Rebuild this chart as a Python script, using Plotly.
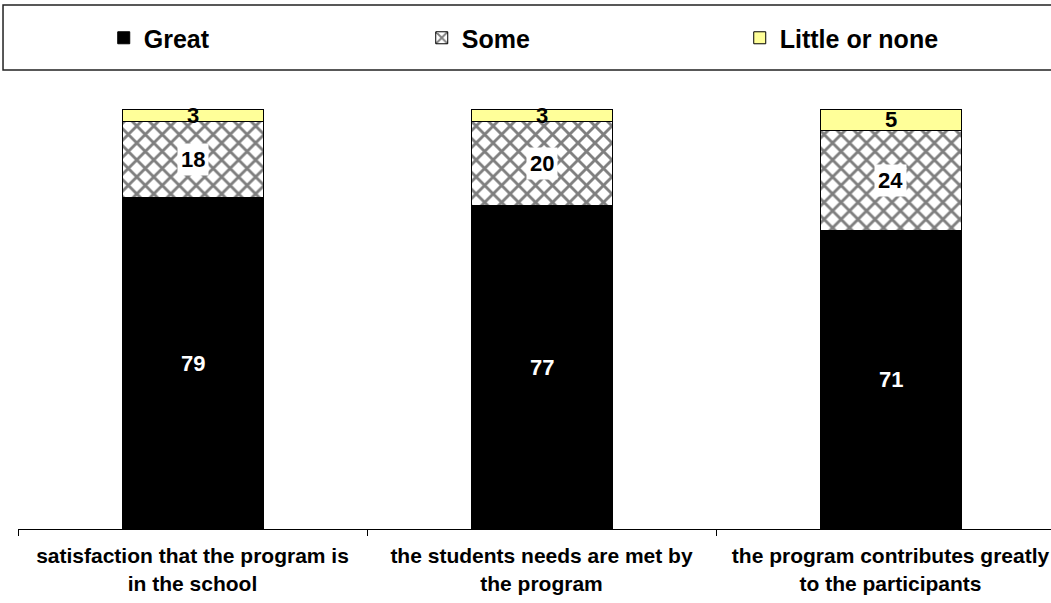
import plotly.graph_objects as go

categories = [
    "satisfaction that the program is<br>in the school",
    "the students needs are met by<br>the program",
    "the program contributes greatly<br>to the participants",
]
series_names = ["Great", "Some", "Little or none"]
great = [79, 77, 71]
some = [18, 20, 24]
little = [3, 3, 5]

FONT = "Liberation Sans, Arial, sans-serif"
xpos = list(range(len(categories)))

fig = go.Figure()
fig.add_trace(go.Bar(
    x=xpos, y=great, name=series_names[0], width=0.404,
    marker=dict(color="black", line=dict(color="black", width=1)),
))
fig.add_trace(go.Bar(
    x=xpos, y=some, name=series_names[1], width=0.404,
    marker=dict(color="white", line=dict(color="black", width=1),
                pattern=dict(shape="x", size=12, solidity=0.42,
                             fgcolor="black", bgcolor="white", fillmode="overlay")),
))
fig.add_trace(go.Bar(
    x=xpos, y=little, name=series_names[2], width=0.404,
    marker=dict(color="#FFFF99", line=dict(color="black", width=1)),
))

# value labels
annotations = []
for i in xpos:
    base = 0
    for vals, fc, bg in ((great, "white", None), (some, "black", "white"), (little, "black", None)):
        v = vals[i]
        a = dict(x=i, y=base + v / 2, text=str(v), showarrow=False,
                 font=dict(family=FONT, size=22, color=fc, weight="bold"),
                 xref="x", yref="y")
        if bg:
            a["bgcolor"] = bg
            a["borderpad"] = 3
        annotations.append(a)
        base += v

# legend frame
shapes = [dict(type="rect", xref="paper", yref="paper",
               x0=-0.0145, x1=1.02, y0=1.0929, y1=1.2476,
               line=dict(color="#222222", width=1.5), fillcolor="rgba(0,0,0,0)")]

fig.update_layout(
    width=1051, height=603,
    margin=dict(l=18, r=0, t=109, b=74, autoexpand=False),
    barmode="stack",
    plot_bgcolor="white", paper_bgcolor="white",
    font=dict(family=FONT, color="black"),
    showlegend=True,
    legend=dict(orientation="h", x=0.083, xanchor="left", y=1.169, yanchor="middle",
                font=dict(family=FONT, size=25, weight="bold"),
                entrywidth=273, traceorder="normal",
                bgcolor="rgba(0,0,0,0)"),
    annotations=annotations,
    shapes=shapes,
    xaxis=dict(range=[-0.5, -0.5 + 1033 / 349], showgrid=False, zeroline=False,
               showline=True, linecolor="black", linewidth=1,
               tickvals=xpos, ticktext=categories, ticks="",
               tickfont=dict(family=FONT, size=21, weight="bold"),
               ticklabelstandoff=8,
               minor=dict(tickvals=[-0.5, 0.5, 1.5], ticks="outside", ticklen=6,
                          tickcolor="black", tickwidth=1, showgrid=False)),
    yaxis=dict(range=[0, 100], visible=False),
)

fig.write_html("out.html")
